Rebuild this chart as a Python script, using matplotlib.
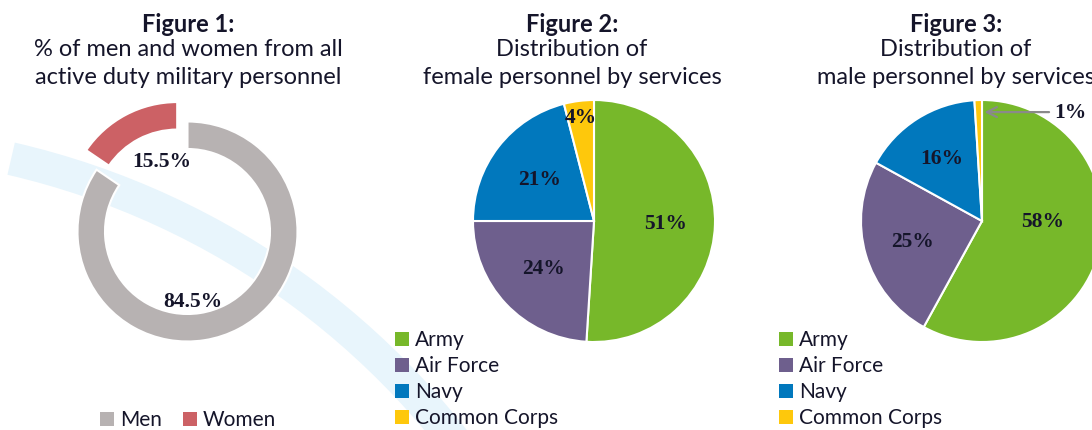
import numpy as np
import matplotlib
matplotlib.use("Agg")
import matplotlib.pyplot as plt
from matplotlib.patches import Wedge, Rectangle

# data
gender_labels = ["Men", "Women"]
gender_values = [84.5, 15.5]
gender_colors = ["#b7b2b2", "#cc6165"]

services = ["Army", "Air Force", "Navy", "Common Corps"]
female_values = [51, 24, 21, 4]
male_values = [58, 25, 16, 1]
service_colors = ["#77b82a", "#6e5f8d", "#0178bd", "#fec80c"]

titles = [
    ("Figure 1:", "% of men and women from all", "active duty military personnel"),
    ("Figure 2:", "Distribution of", "female personnel by services"),
    ("Figure 3:", "Distribution of", "male personnel by services"),
]

W, H = 1092, 431
TXT = "#15152a"
SANS = ["Lato", "DejaVu Sans"]
SERIF = ["Liberation Serif", "DejaVu Serif"]

fig = plt.figure(figsize=(W / 100, H / 100), dpi=100)

# decorative light blue band in the background
bg = fig.add_axes([0, 0, 1, 1], zorder=0)
bg.set_xlim(0, W)
bg.set_ylim(0, H)
bg.axis("off")
bg.add_patch(Wedge((-166, -496), 804, 30, 77, width=33, color="#e8f5fc", lw=0))


def pie_axes(cx, cy, r, pad=1.4):
    size = 2 * r * pad
    ax = fig.add_axes([(cx - size / 2) / W, 1 - (cy + size / 2) / H, size / W, size / H], zorder=2)
    ax.axis("off")
    return ax


def fix_limits(ax, pad=1.4):
    # pie() resets the limits to +-1.25, put them back so radius 1 maps to r pixels
    ax.set_xlim(-pad, pad)
    ax.set_ylim(-pad, pad)
    ax.set_aspect("equal")


def draw_title(x, lines):
    for i, (line, y) in enumerate(zip(lines, [25, 50, 77])):
        fig.text(x / W, 1 - y / H, line, ha="center", va="center", fontsize=17,
                 family=SANS, fontweight="bold" if i == 0 else "normal", color=TXT)


def draw_legend(x, y, labels, colors, dy=26, horizontal=False, widths=None):
    for i, (lab, col) in enumerate(zip(labels, colors)):
        if horizontal:
            px, py = x + sum(widths[:i]), y
        else:
            px, py = x, y + i * dy
        fig.patches.append(Rectangle((px / W, 1 - (py + 7) / H), 14 / W, 14 / H,
                                     transform=fig.transFigure, color=col, lw=0))
        fig.text((px + 20) / W, 1 - py / H, lab, ha="left", va="center", fontsize=15,
                 family=SANS, color=TXT)


def pct_text(ax, x, y, s):
    ax.text(x, y, s, ha="center", va="center", fontsize=15.5, fontweight="bold",
            family=SERIF, color=TXT)


def pct_labels(ax, values, dists):
    start = 90
    for v, d in zip(values, dists):
        mid = np.deg2rad(start - v * 3.6 / 2)
        start -= v * 3.6
        if d is None:
            continue
        pct_text(ax, d * np.cos(mid), d * np.sin(mid), f"{v}%")


# Figure 1: donut
ax1 = pie_axes(187.5, 232.5, 110)
ax1.pie(gender_values, colors=gender_colors, startangle=90, counterclock=False,
        explode=[0, 0.2], wedgeprops=dict(width=0.25, edgecolor="white", linewidth=1.5))
fix_limits(ax1)
pct_text(ax1, -0.23, 0.64, f"{gender_values[1]}%")
pct_text(ax1, 0.05, -0.63, f"{gender_values[0]}%")
draw_title(188, titles[0])
draw_legend(100, 420, gender_labels, gender_colors, horizontal=True, widths=[83, 0])

# Figure 2: female
ax2 = pie_axes(594, 222, 121)
ax2.pie(female_values, colors=service_colors, startangle=90, counterclock=False,
        wedgeprops=dict(edgecolor="white", linewidth=1.5))
fix_limits(ax2)
pct_labels(ax2, female_values, [0.59, 0.57, 0.57, 0.87])
draw_title(572, titles[1])
draw_legend(395, 340, services, service_colors)

# Figure 3: male
ax3 = pie_axes(982, 222, 121)
ax3.pie(male_values, colors=service_colors, startangle=90, counterclock=False,
        wedgeprops=dict(edgecolor="white", linewidth=1.5))
fix_limits(ax3)
pct_labels(ax3, male_values, [None, 0.6, 0.62, None])
pct_text(ax3, 0.5, 0.0, f"{male_values[0]}%")
ax3.annotate(f"{male_values[3]}%", xy=(0.02, 0.9), xytext=(0.6, 0.9), ha="left", va="center",
             fontsize=15.5, fontweight="bold", family=SERIF, color=TXT,
             arrowprops=dict(arrowstyle="->", color="#8a8a8a", lw=1.6, mutation_scale=18,
                             shrinkA=2, shrinkB=0))
draw_title(956, titles[2])
draw_legend(779, 340, services, service_colors)

fig.savefig("out.png", dpi=100)
